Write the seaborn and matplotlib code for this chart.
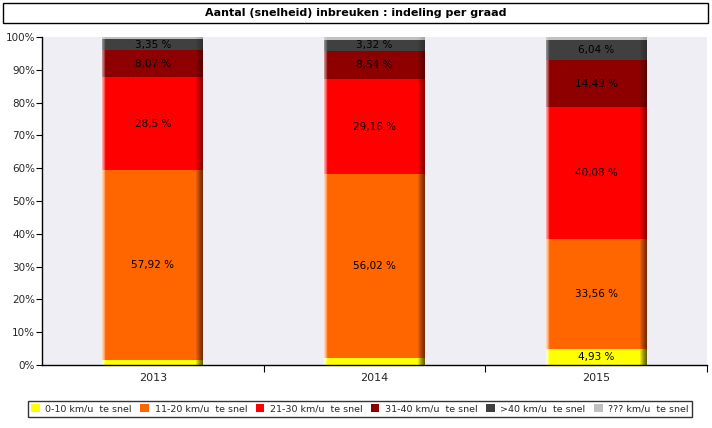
import numpy as np
import pandas as pd
import matplotlib
matplotlib.use("Agg")
import matplotlib.pyplot as plt
from matplotlib.patches import Rectangle, Patch
import seaborn as sns

years = ["2013", "2014", "2015"]
categories = ["0-10 km/u  te snel", "11-20 km/u  te snel", "21-30 km/u  te snel",
              "31-40 km/u  te snel", ">40 km/u  te snel", "??? km/u  te snel"]
v_0_10 = [1.4, 2.1, 4.93]
v_11_20 = [57.92, 56.02, 33.56]
v_21_30 = [28.5, 29.16, 40.08]
v_31_40 = [8.07, 8.54, 14.49]
v_40p = [3.35, 3.32, 6.04]
v_unk = [0.76, 0.86, 0.90]
series = [v_0_10, v_11_20, v_21_30, v_31_40, v_40p, v_unk]
colors = ["#ffff00", "#ff6600", "#ff0000", "#8e0000", "#404040", "#c0c0c0"]
yticks = [0, 10, 20, 30, 40, 50, 60, 70, 80, 90, 100]
title = "Aantal (snelheid) inbreuken : indeling per graad"

sns.set_theme(style="white")
plt.rcParams["font.family"] = ["DejaVu Sans"]

fig = plt.figure(figsize=(7.12, 4.28), dpi=100)
W, H = 712, 428
ax = fig.add_axes([42 / W, 1 - 365 / H, (707 - 42) / W, (365 - 37) / H])
ax.set_facecolor("#eeeef4")

vals = np.array(series)
cum = np.cumsum(vals, axis=0)
cum = cum / cum[-1] * 100

# draw from top layer down so lower layers overlay
for i in range(len(series) - 1, -1, -1):
    df = pd.DataFrame({"year": years, "cum": cum[i]})
    sns.barplot(data=df, x="year", y="cum", color=colors[i], saturation=1,
                width=0.455, ax=ax, linewidth=0)

# subtle shading gradient overlay on bars
n = 400
grad = np.zeros((1, n, 4))
xs = np.linspace(0, 1, n)
for k, x in enumerate(xs):
    if x < 0.035:
        grad[0, k] = [1, 1, 1, 0.25 * (1 - x / 0.035)]
    elif x > 0.93:
        grad[0, k] = [0, 0, 0, 0.15 * (x - 0.93) / 0.07]
for p in list(ax.patches):
    b = p.get_bbox()
    im = ax.imshow(grad, extent=[b.x0, b.x1, b.y0, b.y1], aspect="auto",
                   interpolation="nearest", zorder=p.get_zorder() + 0.1)
    im.set_clip_path(p)

# labels
for i, s in enumerate(series):
    for j, v in enumerate(s):
        if v >= 3:
            mid = cum[i][j] - vals[i][j] / 2
            ax.text(j, mid, f"{v:.2f}".rstrip("0").rstrip(".").replace(".", ",") + " %",
                    ha="center", va="center", fontsize=7.5, color="black", zorder=10)

ax.set_xlim(-0.5, 2.5)
ax.set_ylim(0, 100)
ax.set_yticks(yticks)
ax.set_yticklabels([f"{t}%" for t in yticks], fontsize=7.5)
ax.set_xlabel("")
ax.set_ylabel("")
ax.tick_params(axis="x", length=0, labelsize=8, pad=6)
ax.set_xticks([0.5, 1.5, 2.5], minor=True)
ax.tick_params(axis="x", which="minor", length=5, color="black", width=0.8, bottom=True)
ax.tick_params(axis="y", length=4, color="black", width=0.8, left=True, pad=1)
for s in ["top", "right"]:
    ax.spines[s].set_visible(False)
for s in ["left", "bottom"]:
    ax.spines[s].set_color("black")
    ax.spines[s].set_linewidth(1)

# title box
fig.patches.append(Rectangle((3 / W, 1 - 23 / H), 705 / W, 20 / H, transform=fig.transFigure,
                             facecolor="white", edgecolor="black", linewidth=1, figure=fig))
fig.text(0.5, 1 - 13 / H, title, ha="center", va="center", fontsize=8, fontweight="bold",
         color="black")

handles = [Patch(facecolor=c, edgecolor="none") for c in colors]
leg = fig.legend(handles, categories, loc="center", bbox_to_anchor=(360 / W, 1 - 409 / H),
                 ncol=6, fontsize=6.8, frameon=True, fancybox=False, edgecolor="black",
                 handlelength=0.9, handleheight=0.9, handletextpad=0.6, columnspacing=0.9,
                 borderpad=0.35, borderaxespad=0)
leg.get_frame().set_linewidth(1)

fig.savefig("out.png", dpi=100, facecolor="white")
